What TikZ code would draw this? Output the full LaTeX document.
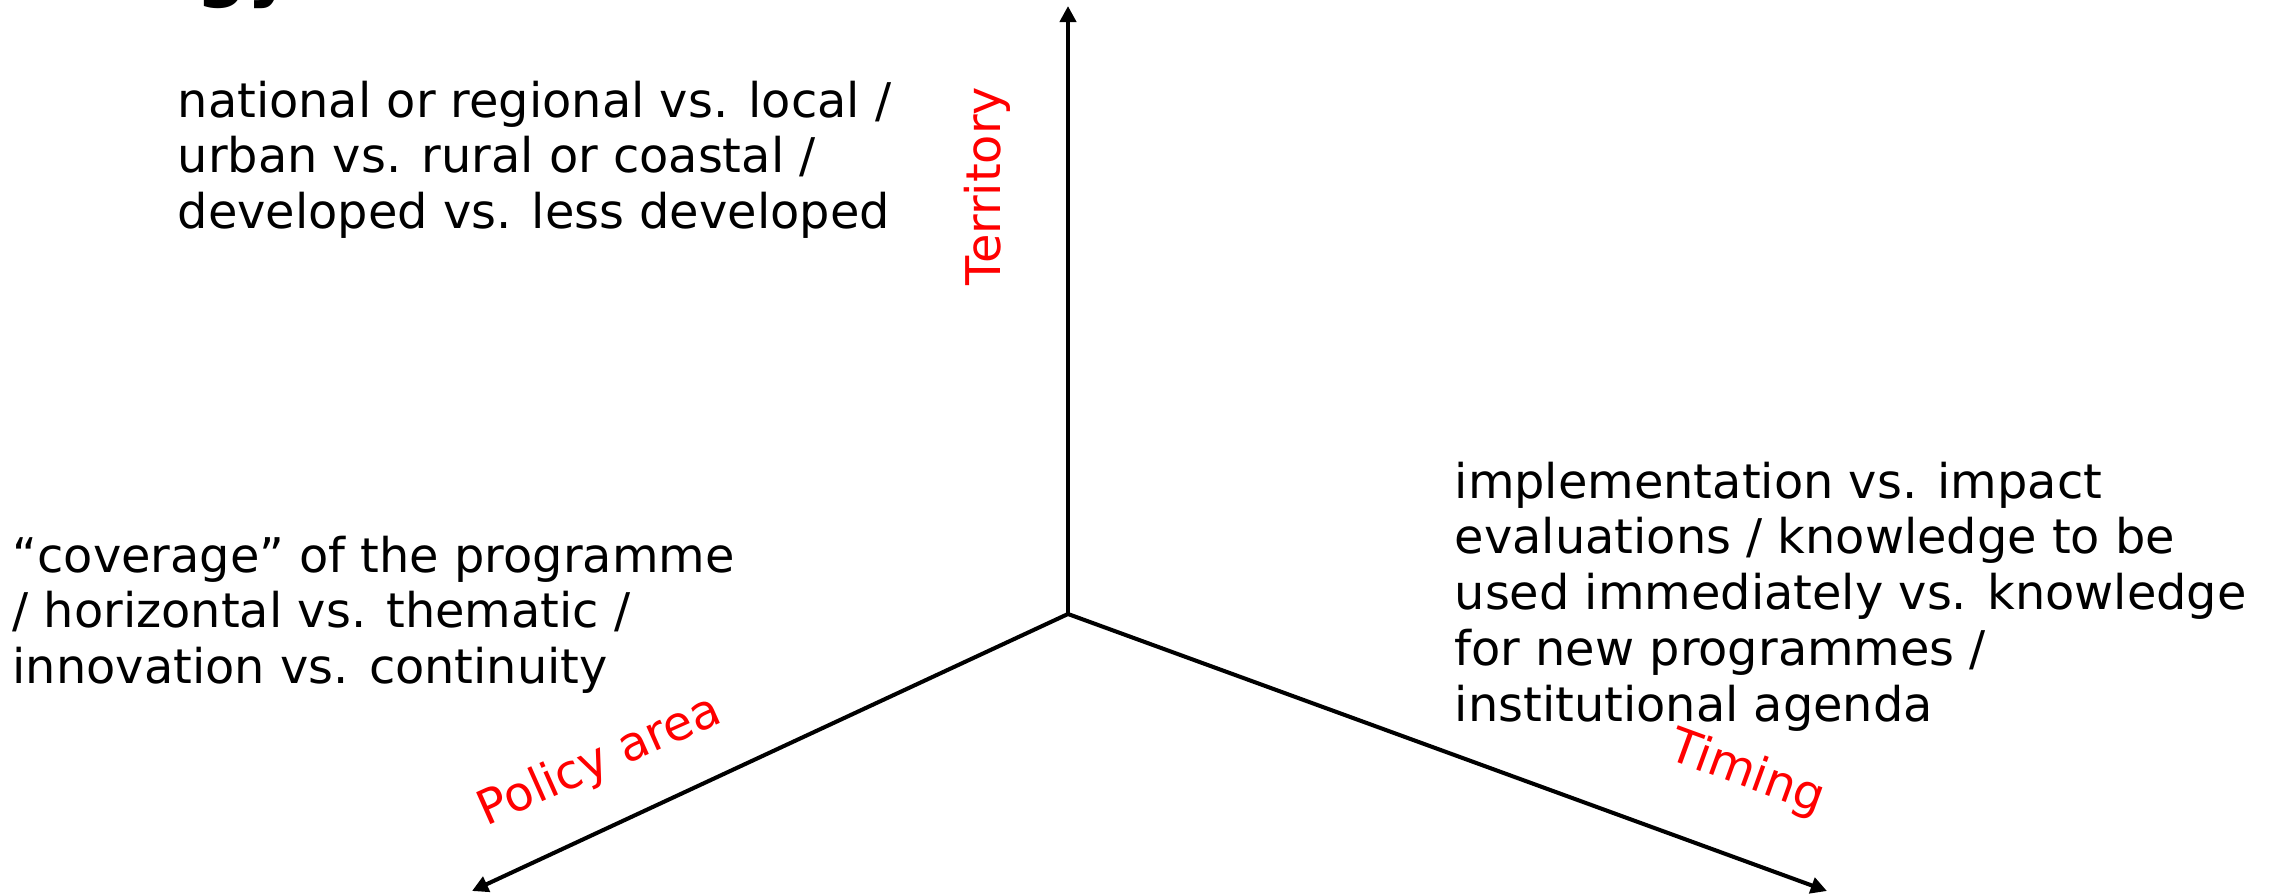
\documentclass[tikz,border=0pt]{standalone}
\usepackage{fontspec}
\setmainfont{DejaVu Sans}
\usetikzlibrary{arrows.meta}
\begin{document}
\begin{tikzpicture}[x=0.01cm,y=-0.01cm,
  axis/.style={line width=1.15pt,-{Triangle[length=4.6pt,width=4.6pt]}},
  body/.style={font=\fontsize{13.6pt}{15.9pt}\selectfont,align=left,inner sep=0pt,anchor=north west},
  axlabel/.style={font=\fontsize{13.6pt}{15.9pt}\selectfont,text=red,inner sep=0pt},
  title/.style={font=\fontsize{20pt}{24pt}\selectfont\bfseries,inner sep=0pt,anchor=base west}]
\useasboundingbox (0,0) rectangle (2269,894);
\fill[white] (0,0) rectangle (2269,894);
% partially visible title
\node[title] (ttl) at (196,-6) {gy};
% axes
\coordinate (O) at (1068,614);
\coordinate (T) at (1068,6);
\coordinate (L) at (472,891);
\coordinate (R) at (1827,891);
\draw[axis] (O) -- (T);
\draw[axis] (O) -- (L);
\draw[axis] (O) -- (R);
% axis labels
\node[axlabel,rotate=90,anchor=base] (terr) at (1000,186) {Territory};
\node[axlabel,rotate=24] (pol) at (600,762) {Policy area};
\node[axlabel,rotate=-20] (tim) at (1747,774) {Timing};
% texts
\node[body] (t1) at (177,80) {national or regional vs. local /\\urban vs. rural or coastal /\\developed vs. less developed};
\node[body] (t2) at (12,535) {“coverage” of the programme\\/ horizontal vs. thematic /\\innovation vs. continuity};
\node[body] (t3) at (1454,461) {implementation vs. impact\\evaluations / knowledge to be\\used immediately vs. knowledge\\for new programmes /\\institutional agenda};
\end{tikzpicture}
\end{document}
